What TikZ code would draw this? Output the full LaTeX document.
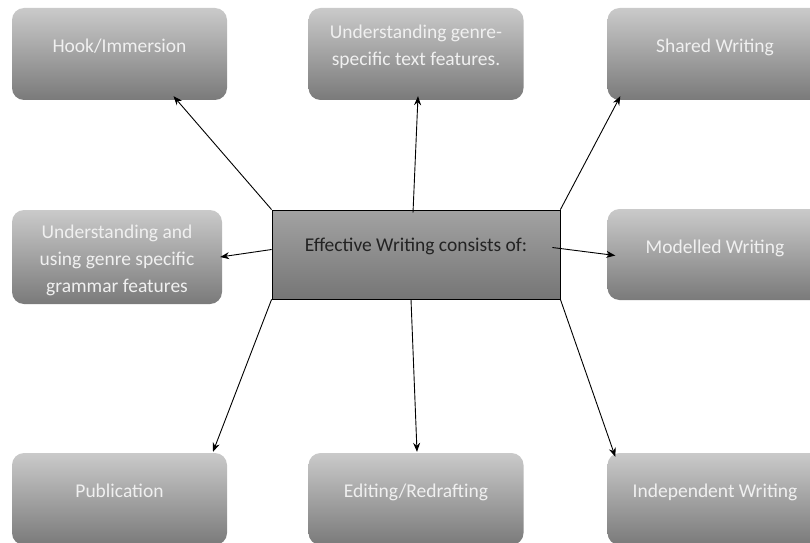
\documentclass[tikz,border=0pt]{standalone}
\usepackage{fontspec}
\setmainfont{Carlito}
\usetikzlibrary{arrows.meta}
\definecolor{leaftop}{RGB}{202,202,202}
\definecolor{leafbottom}{RGB}{122,122,122}
\definecolor{leaftext}{RGB}{240,240,240}
\definecolor{hubtop}{RGB}{162,162,162}
\definecolor{hubbottom}{RGB}{118,118,118}
\definecolor{hubtext}{RGB}{35,35,35}

\begin{document}
\begin{tikzpicture}[x=1pt, y=1pt,
    leaf/.style={rectangle, rounded corners=12pt, top color=leaftop, bottom color=leafbottom,
      minimum width=215pt, minimum height=92pt, inner sep=0pt, align=center,
      text=leaftext, font=\fontsize{19.5}{27}\selectfont},
    oneline/.style={text height=13pt, text depth=16pt},
    hub/.style={rectangle, draw=black, line width=0.8pt, top color=hubtop, bottom color=hubbottom,
      minimum width=288pt, minimum height=89pt, inner sep=0pt, text height=13pt, text depth=20pt,
      text=hubtext, font=\fontsize{19.5}{27}\selectfont},
    link/.style={-{Stealth[length=9pt, width=7pt]}, line width=0.9pt}]
      \useasboundingbox (0,0) rectangle (810,542);
      \clip (0,0) rectangle (810,542);
      \path
        (416,287.5) node[hub] (0){Effective Writing consists of:}
        (119.5,488) node[leaf, oneline] (1){Hook/Immersion}
        (416,488) node[leaf, text depth=17pt] (2){Understanding genre-\\specific text features.}
        (715,488) node[leaf, oneline] (3){Shared Writing}
        (117,285) node[leaf, minimum width=210pt, minimum height=94pt, text height=75pt] (4){Understanding and\\using genre specific\\grammar features}
        (715,287.5) node[leaf, oneline, minimum height=91pt] (5){Modelled Writing}
        (119.5,43) node[leaf, oneline] (6){Publication}
        (416,43) node[leaf, oneline] (7){Editing/Redrafting}
        (715,43) node[leaf, oneline] (8){Independent Writing};
      \begin{scope}[link]
        \draw (0.north west) to ([xshift=54pt, yshift=4pt]1.south);
        \draw ([xshift=-3pt, yshift=-3pt]0.north) to ([xshift=2pt, yshift=4pt]2.south);
        \draw (0.north east) to ([xshift=13pt, yshift=4pt]3.south west);
        \draw ([yshift=5pt]0.west) to ([xshift=-2pt]4.east);
        \draw ([xshift=-8pt, yshift=7pt]0.east) to ([xshift=8pt, yshift=-1pt]5.west);
        \draw (0.south west) to ([xshift=93.5pt, yshift=1pt]6.north);
        \draw ([xshift=-5pt]0.south) to ([xshift=1pt, yshift=1pt]7.north);
        \draw (0.south east) to ([xshift=8pt, yshift=-4pt]8.north west);
      \end{scope}
    \end{tikzpicture}
\end{document}
